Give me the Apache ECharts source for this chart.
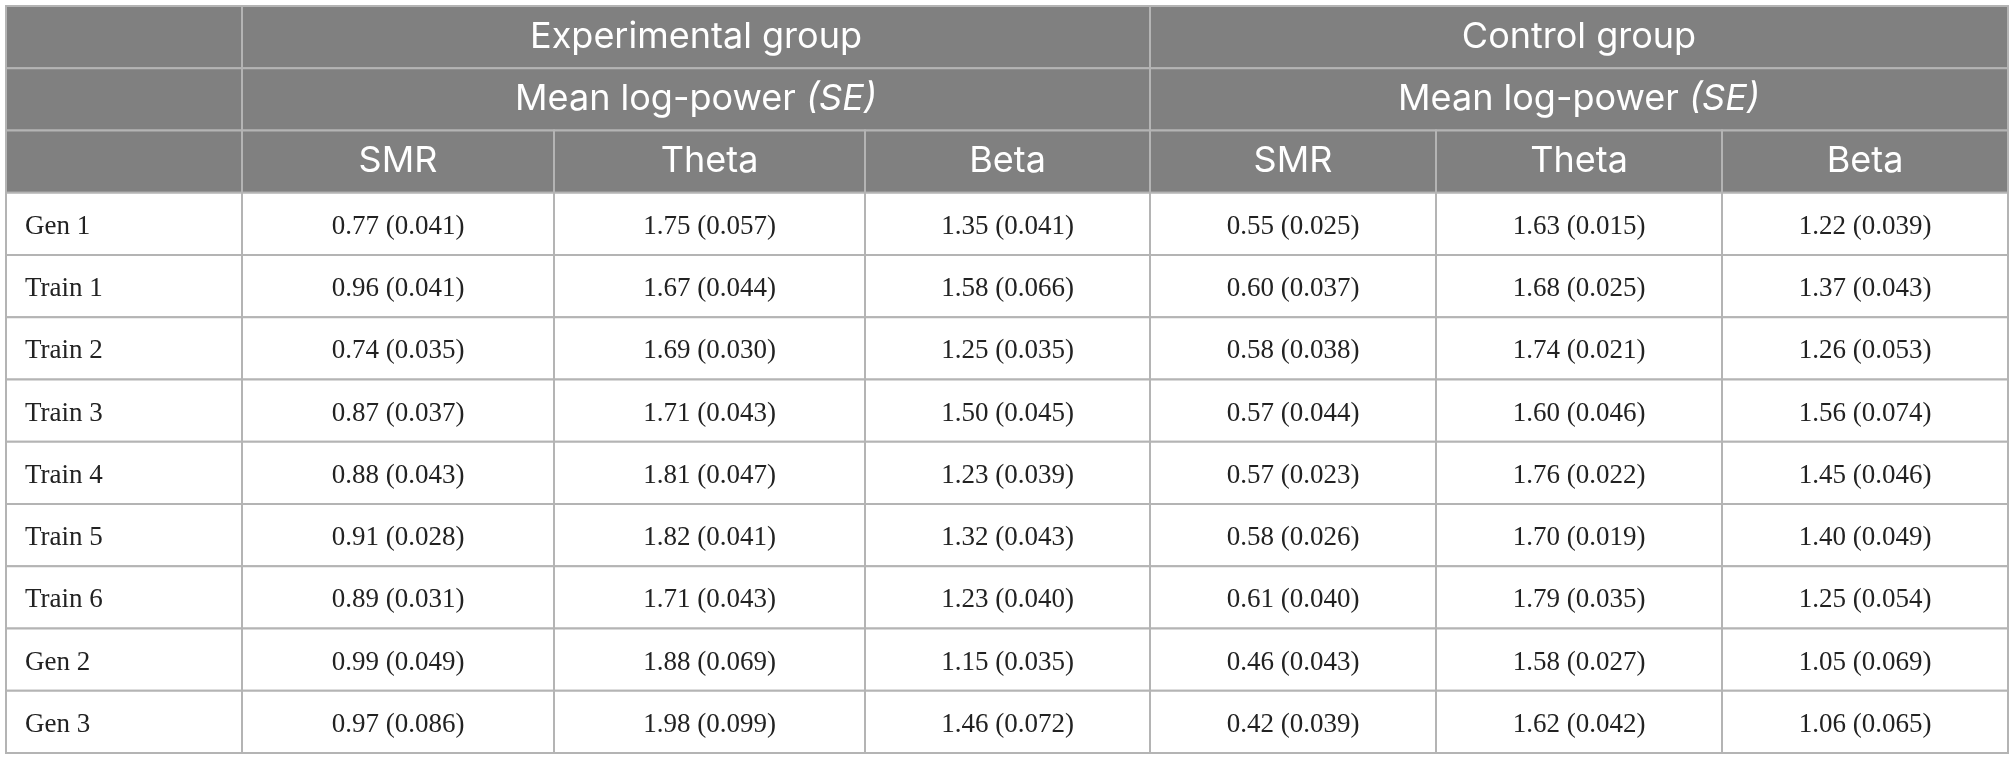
<!DOCTYPE html>
<html>
<head>
<meta charset="utf-8">
<script src="https://cdn.jsdelivr.net/npm/echarts@6/dist/echarts.min.js"></script>
<style>
html,body{margin:0;padding:0;background:#fff;}
#chart{width:2015px;height:760px;}
</style>
</head>
<body>
<div id="chart"></div>
<script>
// ---- data ----
const rowLabels = ['Gen 1','Train 1','Train 2','Train 3','Train 4','Train 5','Train 6','Gen 2','Gen 3'];
const groupNames = ['Experimental group','Control group'];
const measureLabel = 'Mean log-power';
const bandNames = ['SMR','Theta','Beta'];

const expSMR      = [0.77,0.96,0.74,0.87,0.88,0.91,0.89,0.99,0.97];
const expSMRSE    = [0.041,0.041,0.035,0.037,0.043,0.028,0.031,0.049,0.086];
const expTheta    = [1.75,1.67,1.69,1.71,1.81,1.82,1.71,1.88,1.98];
const expThetaSE  = [0.057,0.044,0.030,0.043,0.047,0.041,0.043,0.069,0.099];
const expBeta     = [1.35,1.58,1.25,1.50,1.23,1.32,1.23,1.15,1.46];
const expBetaSE   = [0.041,0.066,0.035,0.045,0.039,0.043,0.040,0.035,0.072];
const ctlSMR      = [0.55,0.60,0.58,0.57,0.57,0.58,0.61,0.46,0.42];
const ctlSMRSE    = [0.025,0.037,0.038,0.044,0.023,0.026,0.040,0.043,0.039];
const ctlTheta    = [1.63,1.68,1.74,1.60,1.76,1.70,1.79,1.58,1.62];
const ctlThetaSE  = [0.015,0.025,0.021,0.046,0.022,0.019,0.035,0.027,0.042];
const ctlBeta     = [1.22,1.37,1.26,1.56,1.45,1.40,1.25,1.05,1.06];
const ctlBetaSE   = [0.039,0.043,0.053,0.074,0.046,0.049,0.054,0.069,0.065];

// ---- layout (styles) ----
const colWidths = [236,312,311,285,286,286,286];
const colEdges = [0];
colWidths.forEach(w => colEdges.push(colEdges[colEdges.length-1] + w));
const headerBg = '#808080';
const borderColor = '#b4b4b4';
const sansFont = 'Inter';
const serifFont = 'Liberation Serif';
const headerSize = 36;
const bodySize = 27;

const means = [expSMR, expTheta, expBeta, ctlSMR, ctlTheta, ctlBeta];
const ses = [expSMRSE, expThetaSE, expBetaSE, ctlSMRSE, ctlThetaSE, ctlBetaSE];

const rowCats = ['h0','h1','h2'].concat(rowLabels);

// cells: value = [colStart, colEnd, rowIndex]
const cells = [];
cells.push({value:[0,1,0], text:'', header:true});
cells.push({value:[1,4,0], text:groupNames[0], header:true});
cells.push({value:[4,7,0], text:groupNames[1], header:true});
cells.push({value:[0,1,1], text:'', header:true});
cells.push({value:[1,4,1], text:'{n|' + measureLabel + ' }{i|(SE)}', header:true});
cells.push({value:[4,7,1], text:'{n|' + measureLabel + ' }{i|(SE)}', header:true});
cells.push({value:[0,1,2], text:'', header:true});
for (let g = 0; g < 2; g++) {
  bandNames.forEach((b, k) => {
    const c = 1 + g*3 + k;
    cells.push({value:[c, c+1, 2], text:b, header:true});
  });
}
rowLabels.forEach((lab, r) => {
  cells.push({value:[0,1,r+3], text:lab, header:false, left:true});
  for (let c = 0; c < 6; c++) {
    cells.push({value:[c+1, c+2, r+3], text: means[c][r].toFixed(2) + ' (' + ses[c][r].toFixed(3) + ')', header:false});
  }
});

const chart = echarts.init(document.getElementById('chart'));
chart.setOption({
  backgroundColor:'#ffffff',
  animation:false,
  textStyle:{fontFamily:serifFont},
  grid:{left:6, right:7, top:6, bottom:7},
  xAxis:{type:'value', min:0, max:colEdges[colEdges.length-1], show:false},
  yAxis:{type:'category', data:rowCats, inverse:true, show:false},
  series:[{
    type:'custom',
    data:cells,
    encode:{x:[0,1], y:2},
    renderItem:function(params, api){
      const item = cells[params.dataIndex];
      const c0 = api.value(0), c1 = api.value(1), r = api.value(2);
      const p0 = api.coord([colEdges[c0], r]);
      const p1 = api.coord([colEdges[c1], r]);
      const h = api.size([0,1])[1];
      const x = p0[0], y = p0[1] - h/2, w = p1[0] - p0[0];
      const children = [{
        type:'rect',
        shape:{x:x, y:y, width:w, height:h},
        style:{fill:item.header ? headerBg : '#ffffff', stroke:borderColor, lineWidth:2}
      }];
      if (item.text) {
        if (item.header) {
          children.push({
            type:'text',
            style:{
              text:item.text,
              x:x + w/2, y:y + h/2,
              align:'center', verticalAlign:'middle',
              fill:'#ffffff',
              fontSize:headerSize, fontFamily:sansFont, fontWeight:'normal',
              rich:{
                n:{fill:'#ffffff', fontSize:headerSize, fontFamily:sansFont},
                i:{fill:'#ffffff', fontSize:headerSize, fontFamily:sansFont, fontStyle:'italic'}
              }
            },
            z2:10
          });
        } else {
          children.push({
            type:'text',
            style:{
              text:item.text,
              x:item.left ? x + 19 : x + w/2, y:y + h/2 + 3,
              align:item.left ? 'left' : 'center', verticalAlign:'middle',
              fill:'#222222',
              fontSize:bodySize, fontFamily:serifFont
            },
            z2:10
          });
        }
      }
      return {type:'group', children:children};
    }
  }]
});
</script>
</body>
</html>
